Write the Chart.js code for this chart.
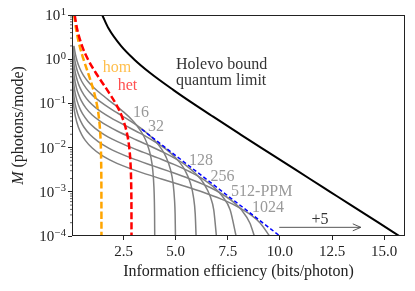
<!DOCTYPE html>
<html>
<head>
<meta charset="utf-8">
<script src="https://cdn.jsdelivr.net/npm/chart.js@4.4.0/dist/chart.umd.min.js"></script>
<style>
  html, body { margin: 0; padding: 0; background: #fff; }
  #wrap { width: 415px; height: 291px; position: relative; }
</style>
</head>
<body>
<div id="wrap"><canvas id="chart"></canvas></div>
<script>
// Photons per mode for the Holevo bound and the two Gaussian receivers
const modeM = [10, 5, 2, 1, 0.5, 0.2, 0.1, 0.05, 0.02, 0.01, 0.005, 0.002, 0.001, 0.0005, 0.0002, 0.0001];
const holevoEff = [1.48, 1.78, 2.38, 3.00, 3.75, 4.90, 5.83, 6.80, 8.10, 9.09, 10.09, 11.41, 12.41, 13.41, 14.73, 15.73];
const homEff = [0.134, 0.220, 0.396, 0.580, 0.792, 1.060, 1.214, 1.315, 1.388, 1.415, 1.428, 1.437, 1.440, 1.441, 1.442, 1.443];
const hetEff = [0.158, 0.268, 0.511, 0.792, 1.161, 1.723, 2.120, 2.427, 2.676, 2.776, 2.829, 2.863, 2.874, 2.880, 2.883, 2.884];

// PPM with photon counting, one pair of arrays per order (curves start at M = 2)
const ppm16M = [2.0, 1.88, 1.25, 0.938, 0.625, 0.438, 0.313, 0.25, 0.188, 0.125, 0.0938, 0.0625, 0.0438, 0.0313, 0.0188, 0.0125, 0.00625, 0.00313, 0.00125, 0.000625, 0.000313, 0.0001];
const ppm16Eff = [0.125, 0.133, 0.2, 0.267, 0.4, 0.571, 0.795, 0.982, 1.267, 1.729, 2.072, 2.528, 2.877, 3.148, 3.456, 3.625, 3.807, 3.902, 3.960, 3.980, 3.990, 3.997];
const ppm32M = [2.0, 1.56, 0.938, 0.625, 0.469, 0.313, 0.219, 0.156, 0.125, 0.0938, 0.0625, 0.0469, 0.0313, 0.0219, 0.0156, 0.00938, 0.00625, 0.00313, 0.00156, 0.000625, 0.000313, 0.0001];
const ppm32Eff = [0.078, 0.1, 0.167, 0.25, 0.333, 0.5, 0.714, 0.993, 1.227, 1.584, 2.162, 2.590, 3.161, 3.596, 3.935, 4.320, 4.532, 4.758, 4.877, 4.950, 4.975, 4.992];
const ppm64M = [2.0, 1.56, 0.781, 0.469, 0.313, 0.234, 0.156, 0.109, 0.0781, 0.0625, 0.0469, 0.0313, 0.0234, 0.0156, 0.0109, 0.00781, 0.00469, 0.00313, 0.00156, 0.000781, 0.000313, 0.0001];
const ppm64Eff = [0.047, 0.06, 0.12, 0.2, 0.3, 0.4, 0.6, 0.856, 1.192, 1.473, 1.900, 2.594, 3.107, 3.793, 4.315, 4.722, 5.184, 5.438, 5.710, 5.852, 5.940, 5.981];
const ppm128M = [2.0, 1.56, 0.781, 0.391, 0.234, 0.156, 0.117, 0.0781, 0.0547, 0.0391, 0.0313, 0.0234, 0.0156, 0.0117, 0.00781, 0.00547, 0.00391, 0.00234, 0.00156, 0.000781, 0.000391, 0.0001];
const ppm128Eff = [0.027, 0.035, 0.07, 0.14, 0.233, 0.35, 0.467, 0.7, 0.999, 1.391, 1.718, 2.217, 3.026, 3.625, 4.425, 5.034, 5.509, 6.048, 6.344, 6.661, 6.828, 6.955];
const ppm256M = [1.95, 1.17, 0.781, 0.391, 0.195, 0.117, 0.0781, 0.0586, 0.0391, 0.0273, 0.0195, 0.0156, 0.0117, 0.00781, 0.00586, 0.00391, 0.00273, 0.00195, 0.00117, 0.000781, 0.000391, 0.0001];
const ppm256Eff = [0.016, 0.027, 0.04, 0.08, 0.16, 0.267, 0.4, 0.533, 0.8, 1.142, 1.589, 1.963, 2.534, 3.459, 4.143, 5.057, 5.753, 6.296, 6.912, 7.251, 7.613, 7.898];
const ppm512M = [0.977, 0.586, 0.391, 0.195, 0.0977, 0.0586, 0.0391, 0.0293, 0.0195, 0.0137, 0.00977, 0.00781, 0.00586, 0.00391, 0.00293, 0.00195, 0.00137, 0.000977, 0.000586, 0.000391, 0.000195, 0.0001];
const ppm512Eff = [0.018, 0.03, 0.045, 0.09, 0.18, 0.3, 0.45, 0.6, 0.9, 1.285, 1.788, 2.209, 2.851, 3.891, 4.661, 5.689, 6.472, 7.082, 7.775, 8.157, 8.565, 8.774];
const ppm1024M = [0.488, 0.293, 0.195, 0.0977, 0.0488, 0.0293, 0.0195, 0.0146, 0.00977, 0.00684, 0.00488, 0.00391, 0.00293, 0.00195, 0.00146, 0.000977, 0.000684, 0.000488, 0.000293, 0.000195, 0.0001];
const ppm1024Eff = [0.02, 0.033, 0.05, 0.1, 0.2, 0.333, 0.5, 0.667, 1.0, 1.427, 1.987, 2.454, 3.167, 4.323, 5.179, 6.321, 7.192, 7.869, 8.639, 9.064, 9.505];

const ppmM = [ppm16M, ppm32M, ppm64M, ppm128M, ppm256M, ppm512M, ppm1024M];
const ppmEff = [ppm16Eff, ppm32Eff, ppm64Eff, ppm128Eff, ppm256Eff, ppm512Eff, ppm1024Eff];

// Blue dashed line along the PPM curves
const envelopeEff = [3.37, 10.0];
const envelopeM = [0.026, 0.0001];

// Axis ticks
const xTicks = [2.5, 5, 7.5, 10, 12.5, 15];
const yDecades = [-4, -3, -2, -1, 0, 1];

// Text labels placed in data coordinates
const labels = [
    { text: 'hom', x: 2.19, y: 0.632, color: '#ffbf4d', align: 'center' },
    { text: 'het', x: 2.69, y: 0.248, color: '#ff5050', align: 'center' },
    { text: '16', x: 3.34, y: 0.0607, color: '#999999', align: 'center' },
    { text: '32', x: 4.06, y: 0.0292, color: '#999999', align: 'center' },
    { text: '128', x: 6.22, y: 0.00498, color: '#999999', align: 'center' },
    { text: '256', x: 7.25, y: 0.0022, color: '#999999', align: 'center' },
    { text: '512-PPM', x: 9.13, y: 0.001, color: '#999999', align: 'center' },
    { text: '1024', x: 9.43, y: 0.00043, color: '#999999', align: 'center' },
    { text: '+5', x: 11.92, y: 0.00023, color: '#333333', align: 'center' },
    { text: 'Holevo bound', x: 5.02, y: 0.74, color: '#333333', align: 'left' },
    { text: 'quantum limit', x: 5.02, y: 0.33, color: '#333333', align: 'left' }
];
const arrowFrom = [9.97, 0.000157];
const arrowTo = [13.88, 0.000157];

const serif = "'Liberation Serif', 'DejaVu Serif', serif";

function toPoints(xs, ys) {
    return xs.map((x, i) => ({ x: x, y: ys[i] }));
}

// First dataset is drawn on top, so the black and dashed lines go first
let datasets = [
    { data: toPoints(holevoEff, modeM), borderColor: '#000000', borderWidth: 2 },
    { data: toPoints(hetEff, modeM), borderColor: '#ff0000', borderWidth: 2.5, borderDash: [7, 3] },
    { data: toPoints(homEff, modeM), borderColor: '#ffa500', borderWidth: 2.5, borderDash: [7, 3] },
    { data: toPoints(envelopeEff, envelopeM), borderColor: '#0000ff', borderWidth: 1.5, borderDash: [4, 2.5] }
];
ppmEff.forEach((eff, i) => {
    datasets.push({ data: toPoints(eff, ppmM[i]), borderColor: '#808080', borderWidth: 1.5 });
});
datasets.forEach(d => {
    d.pointRadius = 0;
    d.fill = false;
    d.cubicInterpolationMode = 'monotone';
});

// Minor log ticks, y tick labels, frame, text and arrow
const decorations = {
    id: 'decorations',
    afterDraw(chart) {
        const ctx = chart.ctx;
        const area = chart.chartArea;
        const xs = chart.scales.x;
        const ys = chart.scales.y;
        ctx.save();

        // frame
        ctx.strokeStyle = '#222';
        ctx.lineWidth = 1;
        const l = Math.round(area.left) + 0.5, t = Math.round(area.top) + 0.5;
        const r = Math.round(area.right) - 0.5, b = Math.round(area.bottom) - 0.5;
        ctx.strokeRect(l, t, r - l, b - t);

        // minor ticks
        ctx.lineWidth = 0.7;
        yDecades.slice(0, -1).forEach(e => {
            for (let k = 2; k <= 9; k++) {
                const py = ys.getPixelForValue(k * Math.pow(10, e));
                ctx.beginPath();
                ctx.moveTo(l, py);
                ctx.lineTo(l - 2.5, py);
                ctx.stroke();
            }
        });

        // y tick labels as 10 with a raised exponent
        ctx.fillStyle = '#222';
        ctx.textBaseline = 'alphabetic';
        yDecades.forEach(e => {
            const py = ys.getPixelForValue(Math.pow(10, e));
            const expText = e < 0 ? '\u2212' + (-e) : String(e);
            ctx.font = '10.5px ' + serif;
            const expW = ctx.measureText(expText).width;
            ctx.textAlign = 'left';
            ctx.fillText(expText, 66 - expW, py - 0.5);
            ctx.font = '15px ' + serif;
            ctx.textAlign = 'right';
            ctx.fillText('10', 66 - expW - 0.5, py + 5);
        });

        // text labels
        ctx.font = '16px ' + serif;
        ctx.textBaseline = 'middle';
        labels.forEach(lb => {
            ctx.fillStyle = lb.color;
            ctx.textAlign = lb.align;
            ctx.fillText(lb.text, xs.getPixelForValue(lb.x), ys.getPixelForValue(lb.y));
        });

        // +5 arrow
        const ax0 = xs.getPixelForValue(arrowFrom[0]);
        const ax1 = xs.getPixelForValue(arrowTo[0]);
        const ay = ys.getPixelForValue(arrowFrom[1]);
        ctx.strokeStyle = '#444';
        ctx.lineWidth = 0.9;
        ctx.beginPath();
        ctx.moveTo(ax0, ay);
        ctx.lineTo(ax1, ay);
        ctx.moveTo(ax1 - 8, ay - 3.5);
        ctx.lineTo(ax1, ay);
        ctx.lineTo(ax1 - 8, ay + 3.5);
        ctx.stroke();

        // y axis title with italic M
        ctx.translate(19, (area.top + area.bottom) / 2);
        ctx.rotate(-Math.PI / 2);
        ctx.fillStyle = '#222';
        ctx.textBaseline = 'middle';
        ctx.textAlign = 'left';
        ctx.font = 'italic 16px ' + serif;
        const mW = ctx.measureText('M').width;
        ctx.font = '16px ' + serif;
        const restW = ctx.measureText(' (photons/mode)').width;
        const start = -(mW + restW) / 2;
        ctx.font = 'italic 16px ' + serif;
        ctx.fillText('M', start, 0);
        ctx.font = '16px ' + serif;
        ctx.fillText(' (photons/mode)', start + mW, 0);

        ctx.restore();
    }
};

const ctx = document.getElementById('chart');
const chart = new Chart(ctx, {
    type: 'line',
    data: { datasets: datasets },
    options: {
        responsive: true,
        maintainAspectRatio: false,
        animation: false,
        layout: { padding: { top: 15, right: 10, left: 0, bottom: 0 } },
        plugins: {
            legend: { display: false },
            tooltip: { enabled: false }
        },
        scales: {
            x: {
                type: 'linear',
                min: 0.03,
                max: 16,
                afterBuildTicks: s => { s.ticks = xTicks.map(v => ({ value: v })); },
                afterFit: s => { s.height = 55; },
                grid: { drawOnChartArea: false, drawTicks: true, tickLength: 4, tickColor: '#222', tickWidth: 1 },
                border: { display: false },
                ticks: {
                    callback: v => v.toFixed(1),
                    color: '#222',
                    font: { family: serif, size: 15 },
                    padding: 3,
                    maxRotation: 0,
                    autoSkip: false
                },
                title: {
                    display: true,
                    text: 'Information efficiency (bits/photon)',
                    color: '#222',
                    font: { family: serif, size: 16 },
                    padding: { top: 0, bottom: 10 }
                }
            },
            y: {
                type: 'logarithmic',
                min: 0.0001,
                max: 10,
                afterBuildTicks: s => { s.ticks = yDecades.map(e => ({ value: Math.pow(10, e) })); },
                afterFit: s => { s.width = 72; },
                grid: { drawOnChartArea: false, drawTicks: true, tickLength: 4, tickColor: '#222', tickWidth: 1 },
                border: { display: false },
                ticks: { callback: () => '', autoSkip: false }
            }
        }
    },
    plugins: [decorations]
});
</script>
</body>
</html>
